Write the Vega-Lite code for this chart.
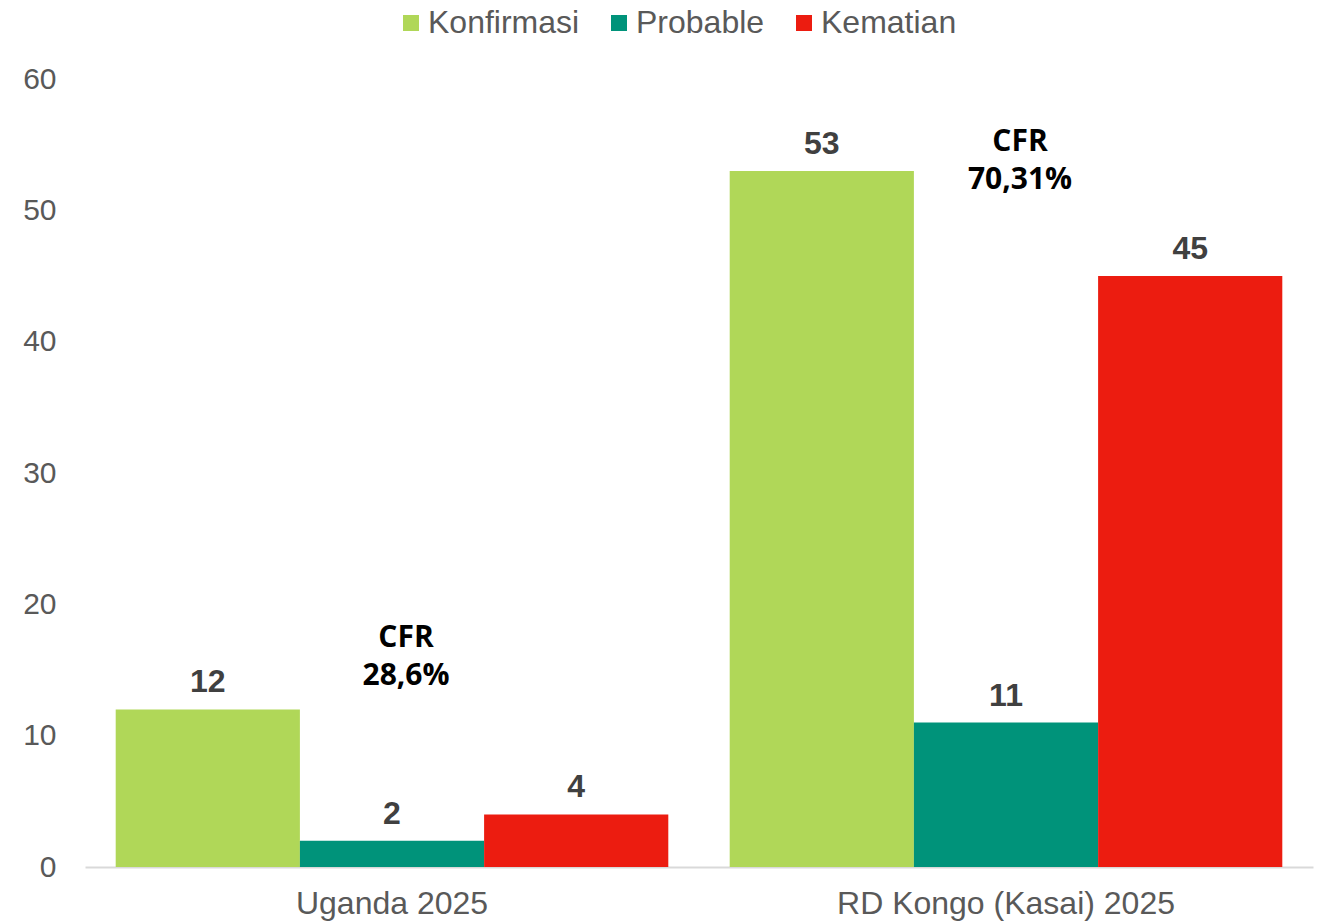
{
  "$schema": "https://vega.github.io/schema/vega-lite/v6.json",
  "width": 1228,
  "height": 788,
  "autosize": {"type": "none"},
  "padding": {"left": 85, "top": 79, "right": 9, "bottom": 55},
  "config": {
    "view": {"stroke": null},
    "font": "Liberation Sans"
  },
  "datasets": {
    "cases": [
      {"country": "Uganda 2025", "series": "Konfirmasi", "value": 12},
      {"country": "Uganda 2025", "series": "Probable", "value": 2},
      {"country": "Uganda 2025", "series": "Kematian", "value": 4},
      {"country": "RD Kongo (Kasai) 2025", "series": "Konfirmasi", "value": 53},
      {"country": "RD Kongo (Kasai) 2025", "series": "Probable", "value": 11},
      {"country": "RD Kongo (Kasai) 2025", "series": "Kematian", "value": 45}
    ],
    "cfr": [
      {"country": "Uganda 2025", "series": "Probable", "value": 17.4, "label": "CFR\n28,6%"},
      {"country": "RD Kongo (Kasai) 2025", "series": "Probable", "value": 55.2, "label": "CFR\n70,31%"}
    ]
  },
  "encoding": {
    "x": {
      "field": "country",
      "type": "nominal",
      "sort": ["Uganda 2025", "RD Kongo (Kasai) 2025"],
      "scale": {"paddingInner": 0.1, "paddingOuter": 0.05},
      "axis": {
        "title": null,
        "labelAngle": 0,
        "labelFontSize": 32,
        "labelColor": "#595959",
        "labelPadding": 21,
        "labelLimit": 0,
        "ticks": false,
        "domainColor": "#d9d9d9",
        "domainWidth": 2
      }
    },
    "xOffset": {
      "field": "series",
      "type": "nominal",
      "sort": ["Konfirmasi", "Probable", "Kematian"],
      "scale": {"paddingInner": 0, "paddingOuter": 0}
    },
    "y": {
      "field": "value",
      "type": "quantitative",
      "scale": {"domain": [0, 60], "nice": false},
      "axis": {
        "title": null,
        "values": [0, 10, 20, 30, 40, 50, 60],
        "labelFontSize": 30,
        "labelColor": "#595959",
        "labelPadding": 29,
        "ticks": false,
        "domain": false,
        "grid": false
      }
    }
  },
  "layer": [
    {
      "data": {"name": "cases"},
      "mark": {"type": "bar"},
      "encoding": {
        "color": {
          "field": "series",
          "type": "nominal",
          "sort": ["Konfirmasi", "Probable", "Kematian"],
          "scale": {
            "domain": ["Konfirmasi", "Probable", "Kematian"],
            "range": ["#B0D758", "#00937A", "#EC1C10"]
          },
          "legend": {
            "orient": "none",
            "legendX": 310,
            "legendY": -72,
            "direction": "horizontal",
            "title": null,
            "labelFontSize": 32,
            "labelColor": "#595959",
            "symbolType": "square",
            "symbolSize": 256,
            "symbolStrokeWidth": 0,
            "labelOffset": 1,
            "columnPadding": 23
          }
        }
      }
    },
    {
      "data": {"name": "cases"},
      "mark": {
        "type": "text",
        "fontSize": 32,
        "fontWeight": "bold",
        "color": "#404040",
        "baseline": "alphabetic",
        "dy": -17
      },
      "encoding": {"text": {"field": "value", "type": "quantitative"}}
    },
    {
      "data": {"name": "cfr"},
      "mark": {
        "type": "text",
        "font": "Open Sans",
        "fontSize": 30,
        "fontWeight": "bold",
        "color": "#000000",
        "lineBreak": "\n",
        "lineHeight": 38,
        "baseline": "middle",
        "dx": 14
      },
      "encoding": {"text": {"field": "label", "type": "nominal"}}
    }
  ]
}
